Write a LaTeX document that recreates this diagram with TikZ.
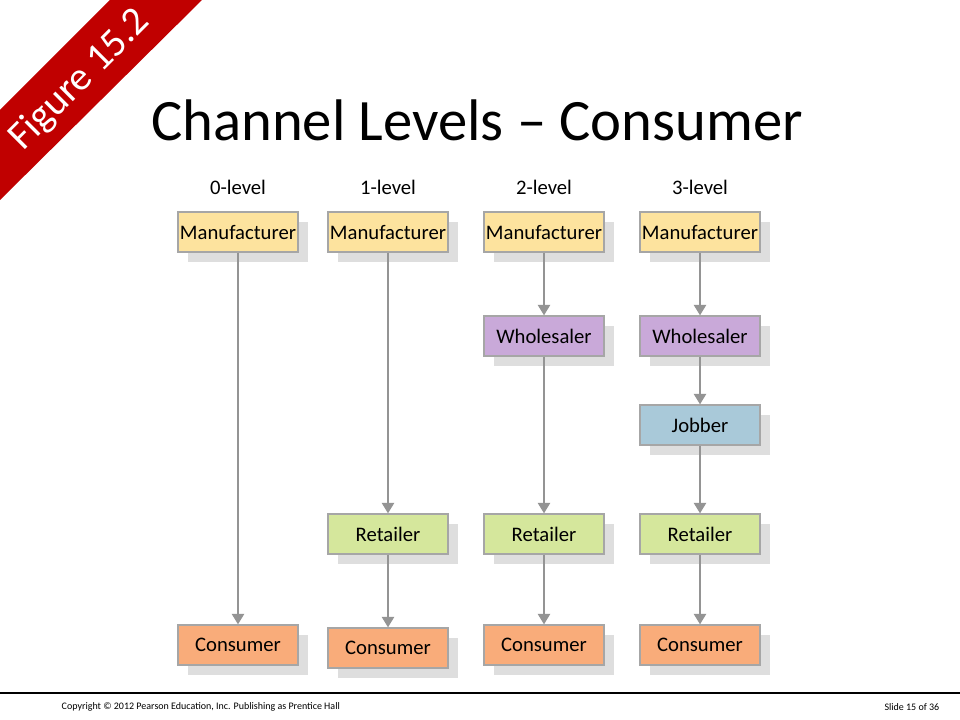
\documentclass[tikz,border=0pt]{standalone}
\usepackage{fontspec}
\setmainfont{Carlito}
\usetikzlibrary{arrows.meta}
\definecolor{man}{HTML}{FDE39E}
\definecolor{who}{HTML}{C9A9D9}
\definecolor{job}{HTML}{A9C9D9}
\definecolor{ret}{HTML}{D5E79C}
\definecolor{con}{HTML}{F9AC7A}
\definecolor{banner}{HTML}{C00000}
\begin{document}
\begin{tikzpicture}[x=0.75pt,y=-0.75pt,
  box/.style={draw=black!35,line width=0.8pt,minimum width=90pt,minimum height=30pt,inner sep=0pt,font=\fontsize{15.5}{16}\selectfont,
    preaction={fill=black!13,transform canvas={xshift=7.5pt,yshift=-7.5pt}}},
  lvl/.style={font=\fontsize{15.5}{16}\selectfont},
  arr/.style={draw=black!42,line width=2.2pt,-{Triangle[length=8pt,width=9pt]}}]
\useasboundingbox (0,0) rectangle (960,720);
\fill[white] (0,0) rectangle (960,720);
% banner
\fill[banner] (0,110) -- (110,0) -- (202,0) -- (0,200) -- cycle;
\node[white,rotate=45,font=\fontsize{30}{30}\selectfont,inner sep=0pt] (fig) at (80,80) {Figure 15.2};
\node[font=\fontsize{44}{48}\selectfont] (title) at (477,120) {Channel Levels – Consumer};
% levels
\foreach \x/\t/\n in {238/0-level/l0,388/1-level/l1,544/2-level/l2,700/3-level/l3}
  \node[lvl] (\n) at (\x,187) {\t};
% column 0
\node[box,fill=man] (m0) at (238,232) {Manufacturer};
\node[box,fill=con] (c0) at (238,645) {Consumer};
% column 1
\node[box,fill=man] (m1) at (388,232) {Manufacturer};
\node[box,fill=ret] (r1) at (388,534) {Retailer};
\node[box,fill=con] (c1) at (388,648) {Consumer};
% column 2
\node[box,fill=man] (m2) at (544,232) {Manufacturer};
\node[box,fill=who] (w2) at (544,336) {Wholesaler};
\node[box,fill=ret] (r2) at (544,534) {Retailer};
\node[box,fill=con] (c2) at (544,645) {Consumer};
% column 3
\node[box,fill=man] (m3) at (700,232) {Manufacturer};
\node[box,fill=who] (w3) at (700,336) {Wholesaler};
\node[box,fill=job] (j3) at (700,425) {Jobber};
\node[box,fill=ret] (r3) at (700,534) {Retailer};
\node[box,fill=con] (c3) at (700,645) {Consumer};
\draw[arr] (m0) -- (c0);
\draw[arr] (m1) -- (r1);
\draw[arr] (r1) -- (c1);
\draw[arr] (m2) -- (w2);
\draw[arr] (w2) -- (r2);
\draw[arr] (r2) -- (c2);
\draw[arr] (m3) -- (w3);
\draw[arr] (w3) -- (j3);
\draw[arr] (j3) -- (r3);
\draw[arr] (r3) -- (c3);
% footer
\coordinate (fl) at (0,693);
\coordinate (fr) at (960,693);
\draw[line width=0.9pt] (fl) -- (fr);
\node[anchor=west,font=\fontsize{7.5}{9}\selectfont] (copy) at (57,707) {Copyright © 2012 Pearson Education, Inc. Publishing as Prentice Hall};
\node[anchor=east,font=\fontsize{7.5}{9}\selectfont] (slide) at (944,707) {Slide 15 of 36};
\end{tikzpicture}
\end{document}
